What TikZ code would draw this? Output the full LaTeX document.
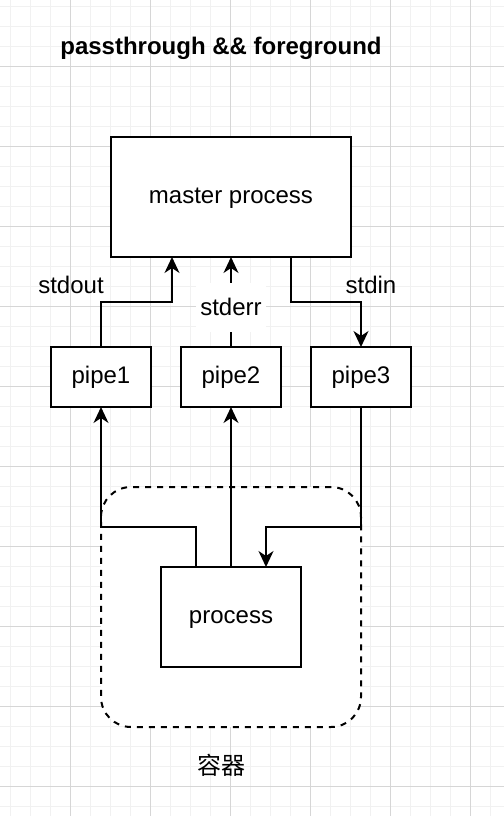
\documentclass[tikz,border=0pt]{standalone}
\usepackage{fontspec}
\setmainfont{Liberation Sans}
\newfontfamily\cjk{Noto Sans CJK SC}
\usetikzlibrary{arrows.meta,calc}

\definecolor{minorgrid}{HTML}{F1F1F1}
\definecolor{majorgrid}{HTML}{D6D6D6}

\tikzset{
    flow/.style={draw=black,line width=1pt,-{Stealth[length=8pt,width=7.5pt,inset=2.5pt]}},
    lbl/.style={inner sep=0pt,font=\fontsize{12}{14}\selectfont}
}

\begin{document}
\begin{tikzpicture}[x=0.5pt,y=-0.5pt,font=\fontsize{12}{14}\selectfont]
                    \useasboundingbox (0,0) rectangle (504,816);
                    \fill[white] (0,0) rectangle (504,816);
                    % grid
                    \foreach \x in {10,30,...,490} \draw[minorgrid,line width=0.5pt] (\x,0) -- (\x,816);
                    \foreach \y in {6,26,...,806} \draw[minorgrid,line width=0.5pt] (0,\y) -- (504,\y);
                    \foreach \x in {70,150,...,470} \draw[majorgrid,line width=0.5pt] (\x,0) -- (\x,816);
                    \foreach \y in {66,146,...,786} \draw[majorgrid,line width=0.5pt] (0,\y) -- (504,\y);

                    \node[font=\bfseries\fontsize{12}{14}\selectfont,anchor=base] (title) at (221,54) {passthrough \&\& foreground};

                    \node[draw=black,dashed,dash pattern=on 3pt off 3pt,line width=1pt,fill=white,rounded corners=15pt,
                          minimum width=130pt,minimum height=120pt] (container) at (231,607) {};
                    \node[anchor=center] (containerlbl) at (222,765) {\cjk 容器};

                    \begin{scope}[every node/.style={rectangle,draw=black,line width=1pt,fill=white,outer sep=0pt,
                                                     text height=8.5pt,text depth=2pt}]
                        \node[minimum width=120pt,minimum height=60pt] (master) at (231,197) {master process};
                        \node[minimum width=50pt,minimum height=30pt] (pipe1) at (101,377) {pipe1};
                        \node[minimum width=50pt,minimum height=30pt] (pipe2) at (231,377) {pipe2};
                        \node[minimum width=50pt,minimum height=30pt] (pipe3) at (361,377) {pipe3};
                        \node[minimum width=70pt,minimum height=50pt] (process) at (231,617) {process};
                    \end{scope}

                    \coordinate (outbend) at (172,302);
                    \coordinate (inbend) at (291,302);
                    \coordinate (p1bend) at (101,527);
                    \coordinate (p3bend) at (361,527);

                    % pipes to master
                    \draw[flow] (pipe1.north) |- (outbend) -- (outbend |- master.south);
                    \draw[flow] (pipe2.north) -- node[lbl,pos=0.44,fill=white,inner ysep=8pt,inner xsep=2pt] (errlbl) {stderr} (pipe2.north |- master.south);
                    \draw[flow] (inbend |- master.south) -- (inbend) -| (pipe3.north);
                    \node[lbl,anchor=base] (outlbl) at (71,293) {stdout};
                    \node[lbl,anchor=base] (inlbl) at (371,293) {stdin};

                    % process to pipes
                    \draw[flow] ($(process.north west)+(35,0)$) |- (p1bend) -- (pipe1.south);
                    \draw[flow] (process.north) -- (pipe2.south);
                    \draw[flow] (pipe3.south) -- (p3bend) -| ($(process.north west)+(105,0)$);
                \end{tikzpicture}
\end{document}
